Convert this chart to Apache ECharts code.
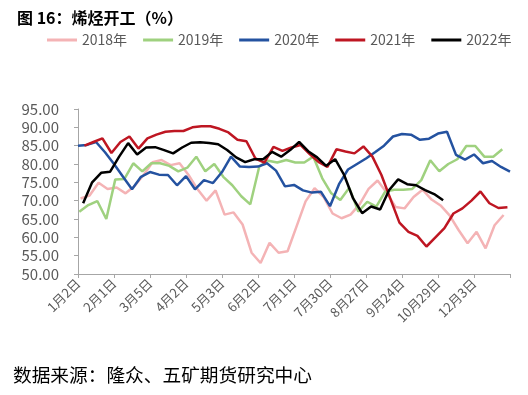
<!DOCTYPE html>
<html><head><meta charset="utf-8">
<script src="https://cdn.jsdelivr.net/npm/echarts@6/dist/echarts.min.js"></script>
<style>html,body{margin:0;padding:0;background:#fff}#c{width:528px;height:395px}</style>
</head><body><div id="c"></div>
<script>
// x-axis tick labels (one every 4 weeks)
const xTickLabels = ['1月2日','2月1日','3月5日','4月2日','5月3日','6月2日','7月1日','7月30日','8月27日','9月24日','10月29日','12月3日'];
const seriesNames = ['2018年','2019年','2020年','2021年','2022年'];
// day (after 1月2日) of each year's first weekly reading
const firstDayOffset = [2, 1, 0, 5, 4];
const daysPerWeek = 7;

const v2018 = [70.6,71.4,74.9,73.2,73.6,72,74,77,80.5,81.1,79.7,80.2,77,73.1,70,72.8,66.2,66.8,63.5,55.8,53,58.5,55.8,56.2,63,69.8,73.4,71,66.5,65.2,66.2,69,73.2,75.5,72.2,68.3,67.9,71,73,70.3,68.7,66,62,58.4,61.5,57,63.3,66.1];
const v2019 = [67,68.8,69.9,65,75.8,75.9,80.2,78,80.2,80.2,79.5,78,79,82,78,80,76.5,74.2,71.2,69,79.3,80.9,80.4,81.1,80.4,80.4,82,76.1,72,70.2,73.5,67,69.7,68.4,72.5,73,73,73.2,75.6,81,78,80,81.3,84.9,84.9,82,82,84];
const v2020 = [85,85.2,86,83.2,80,76.5,73.1,76.5,77.8,77.1,77,74.2,76.7,73.1,75.6,74.8,77.8,82,79.3,79.2,79.3,80.2,78.2,73.9,74.3,72.8,72.2,72.4,68.5,74.5,78.5,80,81.5,83.2,85,87.5,88.2,88,86.6,86.9,88.3,88.8,82.5,81.2,82.6,80.2,80.8,79.2,77.9];
const v2021 = [85,86,87,83,86,87.5,84.2,87,88,88.8,89,89,90,90.3,90.3,89.6,88.6,86.6,86.2,81.5,80.4,84.7,83.6,84.5,85.2,82.8,80.6,79.2,84,83.4,82.9,84.8,82,77,70.5,64,61.5,60.4,57.5,60,62.5,66.5,67.9,70,72.5,69.3,68,68.2];
const v2022 = [69.3,75,77.6,77.9,82,85.7,82.6,84.5,84.6,83.8,82.9,84.5,85.8,85.9,85.7,85.4,83.8,81.8,80.5,81.3,81.3,83.3,82,83.8,86,83.5,81.8,79.5,81.3,77,70.6,66.6,68.4,67.6,72.9,75.8,74.5,74.2,72.9,71.8,70.1];
const yTicks = {min: 50, max: 95, step: 5};
const seriesValues = [v2018, v2019, v2020, v2021, v2022];
const colors = ['#F4B3B5','#9FD17F','#2452A0','#BE1622','#000000'];

const font = '"Noto Sans CJK SC", "Noto Sans", sans-serif';
const chart = echarts.init(document.getElementById('c'), null, {renderer: 'canvas'});
chart.setOption({
  animation: false,
  backgroundColor: '#ffffff',
  color: colors,
  title: {
    text: '图 16：烯烃开工（%）',
    left: 12, top: 5,
    textStyle: {fontSize: 16, fontWeight: 'bold', color: '#000', fontFamily: font}
  },
  graphic: [{
    type: 'text', left: 13, top: 366,
    style: {text: '数据来源：隆众、五矿期货研究中心', fontSize: 18.7, fill: '#000', fontFamily: font}
  }],
  legend: {
    top: 28, left: 42,
    icon: 'rect', itemWidth: 30, itemHeight: 3, itemGap: 16,
    textStyle: {fontSize: 14, color: '#595959', fontFamily: font},
    data: seriesNames
  },
  grid: {left: 78, right: 18, top: 109, bottom: 121},
  xAxis: {
    type: 'value', min: 0, max: 12 * 4 * daysPerWeek, interval: 4 * daysPerWeek,
    axisLine: {show: true, lineStyle: {color: '#A6A6A6', width: 1}},
    axisTick: {show: true, length: 4, lineStyle: {color: '#A6A6A6'}},
    splitLine: {show: false},
    axisLabel: {
      rotate: 45, margin: 7, fontSize: 13, color: '#595959', fontFamily: font,
      formatter: v => xTickLabels[Math.round(v / (4 * daysPerWeek))] || ''
    }
  },
  yAxis: {
    type: 'value', min: yTicks.min, max: yTicks.max, interval: yTicks.step,
    axisLine: {show: true, lineStyle: {color: '#A6A6A6', width: 1}},
    axisTick: {show: true, length: 4, lineStyle: {color: '#A6A6A6'}},
    splitLine: {show: false},
    axisLabel: {margin: 19, fontSize: 15, color: '#595959', fontFamily: font,
      formatter: v => v.toFixed(2)}
  },
  series: seriesValues.map((vals, k) => ({
    name: seriesNames[k],
    type: 'line',
    symbol: 'none',
    lineStyle: {width: 2.5, color: colors[k]},
    itemStyle: {color: colors[k]},
    z: 2 + k,
    data: vals.map((v, i) => [firstDayOffset[k] + daysPerWeek * i, v])
  }))
});
</script>
</body></html>
